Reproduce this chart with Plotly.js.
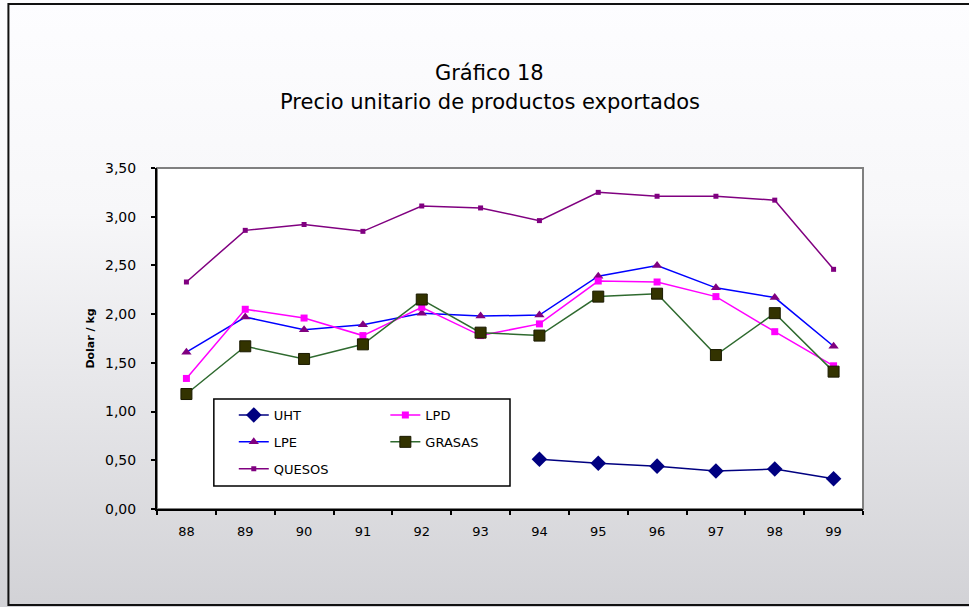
<!DOCTYPE html>
<html>
<head>
<meta charset="utf-8">
<script src="https://cdn.plot.ly/plotly-3.0.1.min.js"></script>
<style>
  html, body { margin: 0; padding: 0; }
  body { width: 969px; height: 607px; overflow: hidden;
         background: linear-gradient(to bottom, #fdfdff 0%, #f7f7f9 35%, #e6e6e9 65%, #d2d2d6 100%); }
  #chart { width: 969px; height: 607px; }
</style>
</head>
<body>
<div id="chart"></div>
<script>
// ---- data ----
var years = ["88","89","90","91","92","93","94","95","96","97","98","99"];
var uht    = [null, null, null, null, null, null, 0.51, 0.47, 0.44, 0.39, 0.41, 0.31];
var lpd    = [1.34, 2.05, 1.96, 1.78, 2.07, 1.78, 1.90, 2.34, 2.33, 2.18, 1.82, 1.47];
var lpe    = [1.61, 1.97, 1.84, 1.89, 2.01, 1.98, 1.99, 2.39, 2.50, 2.27, 2.17, 1.67];
var grasas = [1.18, 1.67, 1.54, 1.69, 2.15, 1.81, 1.78, 2.18, 2.21, 1.58, 2.01, 1.41];
var quesos = [2.33, 2.86, 2.92, 2.85, 3.11, 3.09, 2.96, 3.25, 3.21, 3.21, 3.17, 2.46];
var yTicks = [0, 0.5, 1, 1.5, 2, 2.5, 3, 3.5];

var FONT = "DejaVu Sans, Verdana, sans-serif";

var traces = [
  { name: "UHT", x: years, y: uht, type: "scatter", mode: "lines+markers",
    line: { color: "#000080", width: 1.5 },
    marker: { symbol: "diamond", size: 12, color: "#000080" },
    legend: "legend", legendgroup: "a", legendrank: 1 },
  { name: "LPE", x: years, y: lpe, type: "scatter", mode: "lines+markers",
    line: { color: "#0000ff", width: 1.5 },
    marker: { symbol: "triangle-up", size: 9, color: "#800080" },
    legend: "legend", legendgroup: "b", legendrank: 2 },
  { name: "QUESOS", x: years, y: quesos, type: "scatter", mode: "lines+markers",
    line: { color: "#800080", width: 1.5 },
    marker: { symbol: "square", size: 5, color: "#800080" },
    legend: "legend", legendgroup: "c", legendrank: 3 },
  { name: "LPD", x: years, y: lpd, type: "scatter", mode: "lines+markers",
    line: { color: "#ff00ff", width: 1.5 },
    marker: { symbol: "square", size: 7, color: "#ff00ff" },
    legend: "legend2", legendgroup: "d", legendrank: 1 },
  { name: "GRASAS", x: years, y: grasas, type: "scatter", mode: "lines+markers",
    line: { color: "#2f6a2f", width: 1.5 },
    marker: { symbol: "square", size: 11, color: "#333300", line: { color: "#1a1a00", width: 1 } },
    legend: "legend2", legendgroup: "e", legendrank: 2 }
];

function px2x(px) { return (px - 157) / 708; }
function px2y(py) { return (509 - py) / 341; }

var legendCommon = {
  bgcolor: "rgba(0,0,0,0)", borderwidth: 0,
  font: { family: FONT, size: 13, color: "#000" },
  traceorder: "grouped", tracegroupgap: 7,
  xanchor: "left", yanchor: "top", orientation: "v"
};

var layout = {
  width: 969, height: 607,
  paper_bgcolor: "rgba(0,0,0,0)",
  plot_bgcolor: "#ffffff",
  margin: { l: 157, r: 106, t: 168, b: 98, pad: 0 },
  separators: ",.",
  showlegend: true,
  title: { text: "Gráfico 18", font: { family: FONT, size: 21, color: "#000" },
           x: 0.505, xanchor: "center", y: 0.881, yanchor: "middle" },
  annotations: [
    { text: "Precio unitario de productos exportados", xref: "paper", yref: "paper",
      x: px2x(491), y: px2y(102), xanchor: "center", yanchor: "middle", showarrow: false,
      font: { family: FONT, size: 21, color: "#000" } }
  ],
  xaxis: {
    type: "category", categoryorder: "array", categoryarray: years,
    tickson: "boundaries", ticks: "outside", ticklen: 4, tickwidth: 2, tickcolor: "#000",
    showline: true, linecolor: "#000", linewidth: 2, showgrid: false, zeroline: false,
    tickfont: { family: FONT, size: 13, color: "#000" }, ticklabelstandoff: 9,
    range: [-0.5, 11.5], fixedrange: true
  },
  yaxis: {
    range: [0, 3.5], tickvals: yTicks, tickformat: ".2f",
    ticks: "outside", ticklen: 4, tickwidth: 2, tickcolor: "#000",
    showline: true, linecolor: "#000", linewidth: 2, showgrid: false, zeroline: false,
    tickfont: { family: FONT, size: 14, color: "#000" }, ticklabelstandoff: 12,
    title: { text: "Dolar / kg", font: { family: FONT, size: 11, color: "#000", weight: "bold" }, standoff: 8 },
    automargin: false, fixedrange: true
  },
  legend: Object.assign({}, legendCommon, { x: px2x(234), y: px2y(400) }),
  legend2: Object.assign({}, legendCommon, { x: px2x(386), y: px2y(400) }),
  shapes: [
    // plot area grey frame (top/right)
    { type: "rect", xref: "paper", yref: "paper", x0: 0, x1: 1, y0: 0, y1: 1,
      line: { color: "#808080", width: 2 }, layer: "below" },
    // legend box
    { type: "rect", xref: "paper", yref: "paper",
      x0: px2x(214), x1: px2x(511), y0: px2y(486), y1: px2y(399),
      line: { color: "#000", width: 1.5 }, fillcolor: "rgba(255,255,255,0)", layer: "above" },
    // outer chart frame
    { type: "rect", xref: "paper", yref: "paper",
      x0: px2x(8), x1: px2x(980), y0: px2y(605), y1: px2y(4),
      line: { color: "#111", width: 2 }, layer: "below" }
  ]
};

Plotly.newPlot("chart", traces, layout, { displayModeBar: false, staticPlot: true });
</script>
</body>
</html>
